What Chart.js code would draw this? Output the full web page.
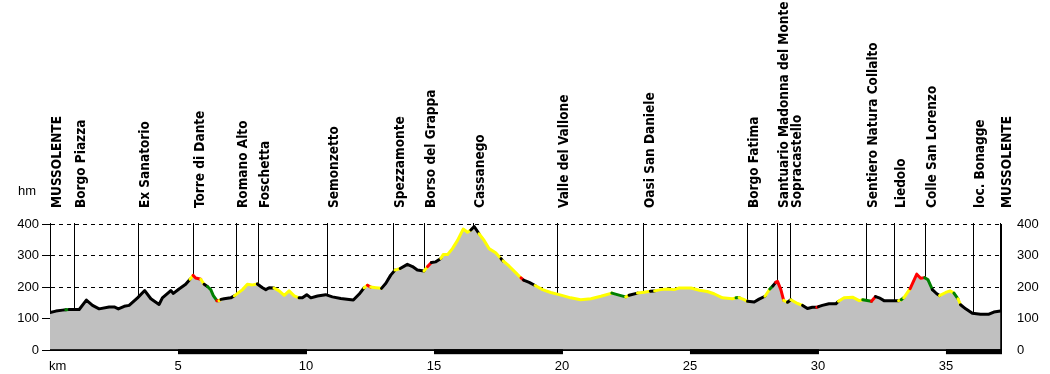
<!DOCTYPE html>
<html>
<head>
<meta charset="utf-8">
<title>Profilo altimetrico</title>
<script src="https://cdn.jsdelivr.net/npm/chart.js@4.4.0/dist/chart.umd.min.js"></script>
<style>
  html, body { margin: 0; padding: 0; background: #fff; }
</style>
</head>
<body>
<canvas id="profileChart" width="1050" height="374"></canvas>
<script>
// profile samples
const distances = [
  0.00, 0.23, 0.49, 0.62, 0.75, 1.14, 1.42, 1.66, 1.92, 2.31, 2.51, 2.67, 2.90, 3.09, 3.42, 3.70,
  3.94, 4.26, 4.39, 4.72, 4.82, 5.04, 5.30, 5.47, 5.59, 5.69, 5.89, 6.02, 6.15, 6.28, 6.38, 6.52,
  6.60, 6.68, 6.80, 7.06, 7.20, 7.52, 7.71, 7.91, 8.10, 8.30, 8.43, 8.56, 8.75, 8.95, 9.15, 9.34,
  9.54, 9.73, 9.86, 10.03, 10.19, 10.45, 10.77, 11.03, 11.36, 11.68, 11.85, 12.08, 12.27, 12.40,
  12.53, 12.73, 12.95, 13.12, 13.31, 13.48, 13.68, 13.96, 14.16, 14.35, 14.61, 14.75, 14.90, 15.07,
  15.27, 15.36, 15.53, 15.72, 15.92, 16.14, 16.31, 16.44, 16.57, 16.76, 16.96, 17.15, 17.41, 17.62,
  17.70, 17.93, 18.19, 18.40, 18.50, 18.72, 18.95, 19.24, 19.56, 19.89, 20.34, 20.73, 21.13, 21.52,
  21.95, 22.30, 22.49, 22.62, 22.95, 23.21, 23.45, 23.62, 23.86, 24.12, 24.38, 24.58, 25.04, 25.37,
  25.68, 25.94, 26.27, 26.66, 26.80, 26.92, 27.12, 27.25, 27.51, 27.70, 27.93, 28.12, 28.24, 28.35,
  28.42, 28.55, 28.66, 28.81, 28.94, 29.20, 29.40, 29.59, 29.78, 29.95, 30.02, 30.17, 30.43, 30.70,
  30.80, 31.02, 31.35, 31.61, 31.75, 32.09, 32.25, 32.39, 32.58, 33.04, 33.15, 33.25, 33.35, 33.60,
  33.86, 34.01, 34.17, 34.30, 34.47, 34.64, 34.75, 34.99, 35.16, 35.31, 35.47, 35.57, 35.77, 36.03,
  36.35, 36.68, 36.87, 37.13
];
const elevations = [
  119, 124, 127, 128, 129, 129, 159, 142, 131, 137, 137, 131, 139, 142, 166, 189,
  163, 145, 166, 189, 180, 194, 209, 225, 237, 229, 225, 209, 202, 192, 173, 157,
  157, 161, 163, 166, 172, 192, 209, 207, 210, 198, 192, 198, 197, 188, 174, 188,
  172, 166, 166, 176, 166, 172, 176, 169, 164, 161, 159, 178, 198, 206,
  200, 198, 196, 212, 238, 254, 259, 272, 265, 254, 251, 265, 278, 280,
  291, 303, 303, 322, 348, 384, 374, 381, 392, 369, 348, 322, 309, 290,
  283, 267, 246, 229, 222, 215, 205, 192, 183, 176, 166, 160, 163, 171,
  181, 173, 169, 174, 181, 184, 187, 188, 192, 194, 192, 197, 197, 190,
  186, 179, 166, 163, 166, 167, 160, 155, 153, 162, 171, 194, 204, 215,
  218, 192, 158, 152, 160, 148, 142, 132, 136, 136, 138, 142, 147, 147,
  155, 166, 168, 157, 160, 155, 170, 166, 157, 157, 157, 160, 166, 195,
  241, 228, 230, 223, 192, 179, 173, 183, 188, 181, 163, 144, 131, 117,
  114, 114, 121, 124
];
// slope class of the stretch that starts at each sample: k plain, y moderate, r steep, g green
const grades = [
  'k', 'k', 'k', 'g', 'k', 'k', 'k', 'k', 'k', 'k', 'k', 'k', 'k', 'k', 'k', 'k',
  'k', 'k', 'k', 'k', 'k', 'k', 'k', 'y', 'r', 'r', 'y', 'k', 'g', 'g', 'g', 'r',
  'y', 'k', 'k', 'k', 'y', 'y', 'y', 'y', 'k', 'k', 'k', 'k', 'y', 'y', 'y', 'y',
  'y', 'k', 'k', 'k', 'k', 'k', 'k', 'k', 'k', 'k', 'k', 'k', 'y', 'r',
  'y', 'y', 'k', 'k', 'k', 'y', 'k', 'k', 'k', 'k', 'y', 'r', 'k', 'k',
  'y', 'y', 'y', 'y', 'y', 'y', 'y', 'k', 'k', 'y', 'y', 'y', 'y', 'k',
  'y', 'y', 'y', 'r', 'k', 'k', 'y', 'y', 'y', 'y', 'y', 'y', 'y', 'y',
  'g', 'g', 'y', 'k', 'y', 'y', 'k', 'y', 'y', 'y', 'y', 'y', 'y', 'y',
  'y', 'y', 'y', 'y', 'g', 'y', 'y', 'k', 'k', 'k', 'y', 'g', 'k', 'r',
  'r', 'r', 'y', 'k', 'y', 'y', 'k', 'k', 'k', 'r', 'k', 'k', 'k', 'k',
  'y', 'y', 'y', 'y', 'g', 'r', 'k', 'k', 'k', 'k', 'y', 'g', 'y', 'r',
  'r', 'r', 'g', 'g', 'k', 'k', 'y', 'y', 'y', 'g', 'y', 'k', 'k', 'k',
  'k', 'k', 'k', 'k'
];

const waypointNames = [
  'MUSSOLENTE', 'Borgo Piazza', 'Ex Sanatorio', 'Torre di Dante', 'Romano Alto', 'Foschetta',
  'Semonzetto', 'Spezzamonte', 'Borso del Grappa', 'Cassanego', 'Valle del Vallone',
  'Oasi San Daniele', 'Borgo Fatima', 'Santuario Madonna del Monte', 'Sopracastello',
  'Sentiero Natura Collalto', 'Liedolo', 'Colle San Lorenzo', 'loc. Bonagge', 'MUSSOLENTE'
];
const waypointKm = [
  0, 0.95, 3.45, 5.57, 7.25, 8.14, 10.83, 13.41, 14.62, 16.54, 19.82,
  23.18, 27.24, 28.39, 28.91, 31.86, 32.98, 34.17, 36.07, 37.11
];

const routeLength = 37.15;
const kmStep = 5;

const gradeColors = { k: '#000000', y: '#ffff00', r: '#ff0000', g: '#008000' };
const axisFont = { family: 'Liberation Sans, Arial, sans-serif', size: 13 };

const profilePoints = distances.map((d, i) => ({ x: d, y: elevations[i] }));

const decorPlugin = {
  id: 'decor',
  beforeDatasetsDraw(chart) {
    // waypoint markers, the grey fill covers the part under the profile
    const { ctx, chartArea, scales } = chart;
    ctx.save();
    ctx.strokeStyle = '#000';
    ctx.lineWidth = 1;
    waypointKm.forEach((km) => {
      const x = Math.round(scales.x.getPixelForValue(km)) + 0.5;
      ctx.beginPath();
      ctx.moveTo(x, chartArea.top - 1);
      ctx.lineTo(x, chartArea.bottom);
      ctx.stroke();
    });
    ctx.restore();
  },
  afterDraw(chart) {
    const { ctx, chartArea, scales } = chart;
    ctx.save();

    // distance bar under the axis
    ctx.fillStyle = '#000';
    for (let km = 0; km < routeLength; km += kmStep) {
      if ((km / kmStep) % 2 === 1) {
        const x1 = scales.x.getPixelForValue(km);
        const x2 = scales.x.getPixelForValue(Math.min(km + kmStep, routeLength));
        ctx.fillRect(x1, chartArea.bottom - 1, x2 - x1 + 1, 5);
      }
    }
    ctx.fillRect(chartArea.left, chartArea.bottom - 1, chartArea.right - chartArea.left + 1, 1);

    // unit labels
    ctx.font = `${axisFont.size}px ${axisFont.family}`;
    ctx.textBaseline = 'middle';
    ctx.textAlign = 'center';
    ctx.fillText('hm', 27, 191);
    ctx.textAlign = 'left';
    ctx.fillText('km', chartArea.left - 1, 366);

    // waypoint names
    ctx.font = 'bold 13.5px "DejaVu Sans Condensed", "DejaVu Sans", sans-serif';
    ctx.textBaseline = 'top';
    ctx.textAlign = 'left';
    waypointKm.forEach((km, i) => {
      const x = Math.round(scales.x.getPixelForValue(km));
      ctx.save();
      ctx.translate(x + 1, 208);
      ctx.rotate(-Math.PI / 2);
      ctx.fillText(waypointNames[i], 0, 0);
      ctx.restore();
    });
    ctx.restore();
  }
};

new Chart(document.getElementById('profileChart'), {
  type: 'line',
  data: {
    datasets: [
      {
        // coloured profile line
        data: profilePoints,
        borderColor: '#000',
        borderWidth: 3,
        borderJoinStyle: 'round',
        borderCapStyle: 'round',
        fill: false,
        pointRadius: 0,
        tension: 0,
        order: 0,
        segment: {
          borderColor: (c) => gradeColors[grades[c.p0DataIndex]],
        },
      },
      {
        // grey ground below the profile
        data: profilePoints,
        borderWidth: 0,
        backgroundColor: '#c0c0c0',
        fill: 'origin',
        pointRadius: 0,
        tension: 0,
        order: 1,
      },
    ],
  },
  options: {
    responsive: false,
    animation: false,
    layout: { padding: { top: 224 } },
    plugins: {
      legend: { display: false },
      tooltip: { enabled: false },
    },
    scales: {
      x: {
        type: 'linear',
        min: 0,
        max: routeLength,
        afterFit: (s) => { s.height = 22; },
        grid: { display: false, drawTicks: false },
        border: { display: true, color: '#000' },
        ticks: {
          stepSize: kmStep,
          includeBounds: false,
          autoSkip: false,
          maxRotation: 0,
          padding: 8,
          color: '#000',
          font: axisFont,
          callback: (v) => (v > 0 && v % kmStep === 0 ? v : ''),
        },
      },
      y: {
        position: 'left',
        min: 0,
        max: 400,
        afterFit: (s) => { s.width = 50; },
        grid: { color: '#000', lineWidth: 1, drawTicks: true, tickLength: 8, tickColor: '#000' },
        border: { display: true, color: '#000', dash: [4, 4] },
        ticks: { stepSize: 100, padding: 3, color: '#000', font: axisFont },
      },
      y2: {
        position: 'right',
        min: 0,
        max: 400,
        afterFit: (s) => { s.width = 49; },
        grid: { display: false, drawTicks: false },
        border: { display: true, color: '#000' },
        ticks: { stepSize: 100, padding: 16, color: '#000', font: axisFont },
      },
    },
  },
  plugins: [decorPlugin],
});
</script>
</body>
</html>
